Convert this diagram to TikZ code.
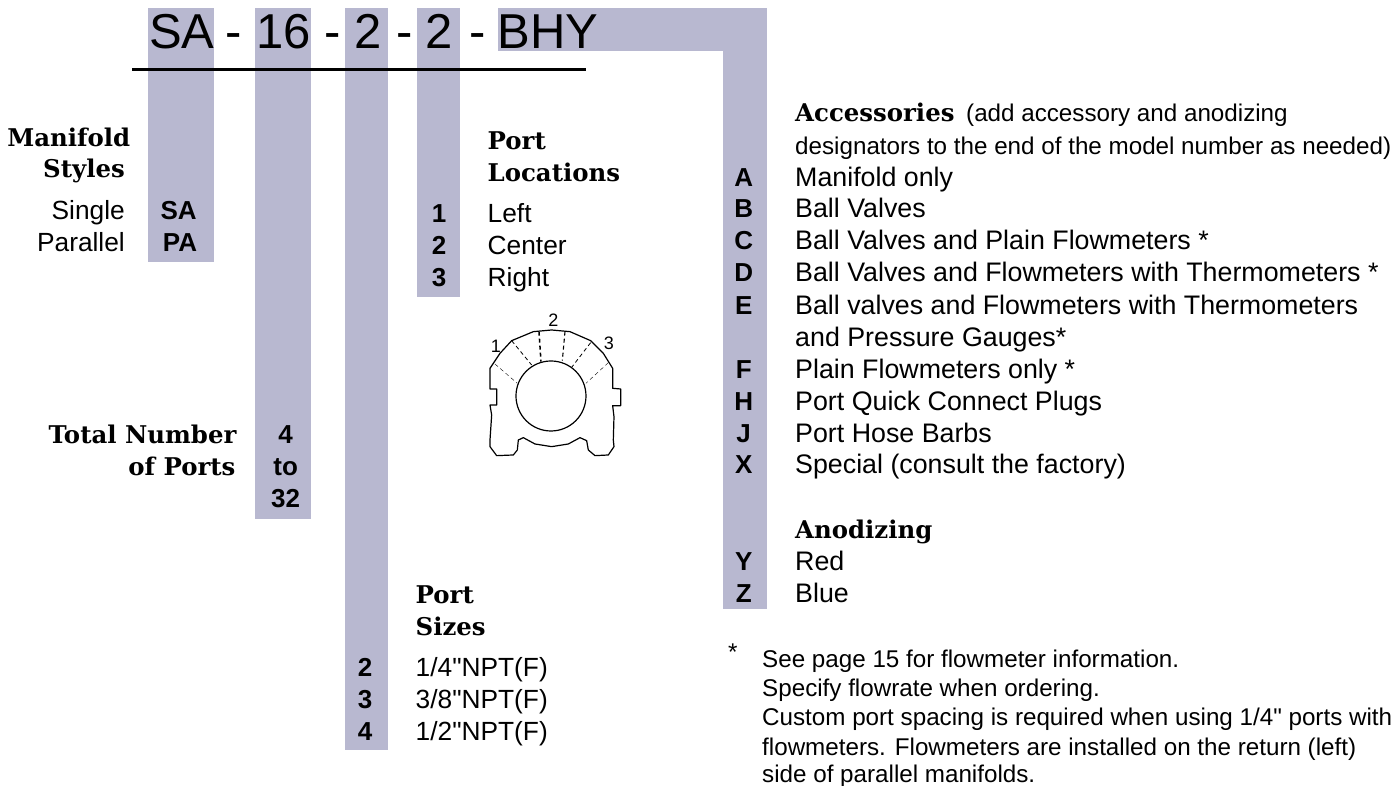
\documentclass[tikz,border=0pt]{standalone}
\usepackage{fontspec}
\setmainfont{Liberation Sans}
\newfontfamily\bodyfont{Liberation Sans}
\newfontfamily\headfont{DejaVu Serif}
\definecolor{bar}{HTML}{B8B8D0}
\tikzset{
  bodytxt/.style={anchor=base west,inner sep=0pt,font=\fontsize{26.3}{30}\bodyfont},
  listtxt/.style={anchor=base west,inner sep=0pt,font=\fontsize{26.8}{30}\bodyfont},
  notetxt/.style={anchor=base west,inner sep=0pt,font=\fontsize{24.2}{28}\bodyfont},
  keytxt/.style={anchor=base,inner sep=0pt,font=\fontsize{26}{30}\bodyfont\bfseries},
  righttxt/.style={anchor=base east,inner sep=0pt,font=\fontsize{26.3}{30}\bodyfont},
  headl/.style={anchor=base west,inner sep=0pt,font=\fontsize{24.4}{28}\headfont\bfseries},
  headr/.style={anchor=base east,inner sep=0pt,font=\fontsize{24.4}{28}\headfont\bfseries},
  titletxt/.style={anchor=base west,inner sep=0pt,font=\fontsize{49}{56}\bodyfont},
  barfill/.style={fill=bar,draw=none},
  digit/.style={anchor=center,inner sep=0pt,font=\fontsize{18}{20}\bodyfont},
  outline/.style={draw=black,line width=1.2pt,line join=round},
  cut/.style={draw=black,dash pattern=on 4pt off 3pt},
}
\begin{document}
\begin{tikzpicture}[x=1pt,y=-1pt]
\useasboundingbox (0,0) rectangle (1395,786);
% bars
\fill[barfill] (148,8) rectangle (214,262);
\fill[barfill] (255,8) rectangle (311,519);
\fill[barfill] (345,8) rectangle (388,750);
\fill[barfill] (417,8) rectangle (460,297);
\fill[barfill] (498,8) rectangle (767,51);
\fill[barfill] (723,51) rectangle (767,609);
% title
\node[titletxt] (t1) at (149,49) {SA};
\node[titletxt] (t2) at (225,49) {-};
\node[titletxt] (t3) at (256,49) {16};
\node[titletxt] (t4) at (324,49) {-};
\node[titletxt] (t5) at (354.5,49) {2};
\node[titletxt] (t6) at (396,49) {-};
\node[titletxt] (t7) at (425.5,49) {2};
\node[titletxt] (t8) at (469,49) {-};
\node[titletxt] (t9) at (497.5,49) {BHY};
\coordinate (la) at (132,69.5);
\coordinate (lb) at (586,69.5);
\draw[line width=3pt] (la) -- (lb);
% manifold styles
\node[headr] (h1) at (130.4,147) {Manifold};
\node[headr] (h2) at (125,178) {Styles};
\node[righttxt] (s1) at (125,220) {Single};
\node[righttxt] (s2) at (125,252) {Parallel};
\node[keytxt] (k1) at (178.6,220) {SA};
\node[keytxt] (k2) at (180,252) {PA};
% ports
\node[headr] (h3) at (236.6,443) {Total Number};
\node[headr] (h4) at (235.6,475) {of Ports};
\node[keytxt] (k3) at (285.7,443) {4};
\node[keytxt] (k4) at (285.7,475) {to};
\node[keytxt] (k5) at (285.7,507) {32};
% port locations
\node[headl] (h5) at (487.5,150) {Port};
\node[headl] (h6) at (487.5,182) {Locations};
\node[keytxt] (k6) at (439,223) {1};
\node[keytxt] (k7) at (439,255) {2};
\node[keytxt] (k8) at (439,287) {3};
\node[bodytxt] (b1) at (487.5,223) {Left};
\node[bodytxt] (b2) at (487.5,255) {Center};
\node[bodytxt] (b3) at (487.5,287) {Right};
% port sizes
\node[headl] (h7) at (415.5,603) {Port};
\node[headl] (h8) at (415.5,635) {Sizes};
\node[keytxt] (k9) at (365,676) {2};
\node[keytxt] (k10) at (365,708) {3};
\node[keytxt] (k11) at (365,740) {4};
\node[bodytxt] (b4) at (415.5,676) {1/4"NPT(F)};
\node[bodytxt] (b5) at (415.5,708) {3/8"NPT(F)};
\node[bodytxt] (b6) at (415.5,740) {1/2"NPT(F)};
% accessories
\node[headl] (h9) at (795,122) {Accessories};
\node[notetxt] (b7) at (966,122) {(add accessory and anodizing};
\node[notetxt] (b8) at (795,155) {designators to the end of the model number as needed)};
\foreach \nm/\k/\t/\y in {
  a/A/Manifold only/187,
  b/B/Ball Valves/218,
  c/C/Ball Valves and Plain Flowmeters */250,
  d/D/Ball Valves and Flowmeters with Thermometers */282,
  e/E/Ball valves and Flowmeters with Thermometers/315,
  f/F/Plain Flowmeters only */378,
  h/H/Port Quick Connect Plugs/410,
  j/J/Port Hose Barbs/442,
  x/X/Special (consult the factory)/473,
  y/Y/Red/570,
  z/Z/Blue/602}{
  \node[keytxt] (key\nm) at (743.7,\y) {\k};
  \node[listtxt] (txt\nm) at (795,\y) {\t};
}
\node[listtxt] (e2) at (795,347) {and Pressure Gauges*};
\node[headl] (h10) at (795,538) {Anodizing};
% footnote
\node[notetxt] (star) at (728,660) {*};
\node[notetxt] (n1) at (762,667) {See page 15 for flowmeter information.};
\node[notetxt] (n2) at (762,696) {Specify flowrate when ordering.};
\node[notetxt] (n3) at (762,725) {Custom port spacing is required when using 1/4" ports with};
\node[notetxt] (n4) at (762,755) {flowmeters. Flowmeters are installed on the return (left)};
\node[notetxt] (n5) at (762,782) {side of parallel manifolds.};
% port location sketch
\begin{scope}[shift={(440,290)},x=0.3333pt,y=-0.3333pt]
\draw[outline] (150,235) -- (180,190) -- (215,152) -- (280,125) -- (335,120) -- (390,125) -- (452,152) -- (490,190) -- (518,235)
  -- (518,295) -- (542,297) -- (542,347) -- (518,347) -- (522,380) -- (520,450) -- (522,470) -- (505,495) -- (465,497) -- (445,480) -- (440,452) -- (420,443)
  -- (385,462) -- (335,470) -- (285,462) -- (250,443) -- (235,450) -- (232,480) -- (220,495) -- (170,497) -- (150,470) -- (150,450)
  -- (155,375) -- (150,345) -- (170,345) -- (170,297) -- (150,297) -- cycle;
\draw[outline] (333,318) circle[radius=35pt];
\draw[cut,line width=0.4pt] (165,222) -- (232,280);
\draw[cut,line width=0.8pt] (215,152) -- (275,225);
\draw[cut,line width=1.5pt] (297,125) -- (303,215);
\draw[cut,line width=1.1pt] (375,125) -- (367,212);
\draw[cut,line width=0.8pt] (452,158) -- (395,232);
\draw[cut,line width=0.4pt] (505,218) -- (438,280);
\node[digit] (d1) at (168,168) {1};
\node[digit] (d2) at (340,92) {2};
\node[digit] (d3) at (507,160) {3};
\end{scope}
\end{tikzpicture}
\end{document}
